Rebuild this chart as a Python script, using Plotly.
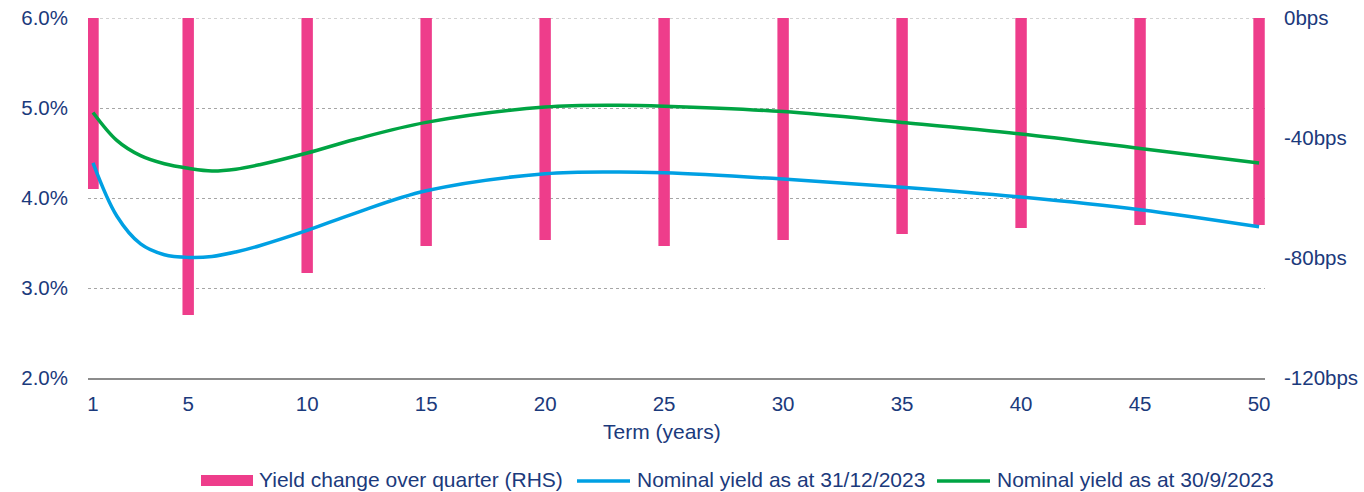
import plotly.graph_objects as go

# Bars: yield change over quarter (bps), RHS
bar_terms = [1, 5, 10, 15, 20, 25, 30, 35, 40, 45, 50]
bar_change = [-57, -99, -85, -76, -74, -76, -74, -72, -70, -69, -69]

# Lines: nominal yield curves (%)
line_terms = [1, 2, 3, 4, 5, 6, 7, 8, 10, 12, 15, 20, 23, 25, 30, 35, 40, 45, 50]
yield_dec = [4.39, 3.80, 3.49, 3.37, 3.34, 3.35, 3.40, 3.47, 3.64, 3.83, 4.08, 4.27, 4.29, 4.28, 4.21, 4.12, 4.01, 3.87, 3.68]
yield_sep = [4.95, 4.64, 4.47, 4.38, 4.33, 4.30, 4.32, 4.37, 4.50, 4.65, 4.84, 5.01, 5.03, 5.02, 4.96, 4.84, 4.71, 4.55, 4.39]

x_ticks = [1, 5, 10, 15, 20, 25, 30, 35, 40, 45, 50]
left_ticks = [2, 3, 4, 5, 6]
right_ticks = [0, -40, -80, -120]

names = ["Yield change over quarter (RHS)",
         "Nominal yield as at 31/12/2023",
         "Nominal yield as at 30/9/2023"]

PINK = "#EE3D8B"
BLUE = "#00A0E3"
GREEN = "#00A443"
TXT = "#1B3A7C"
FONT = "Liberation Sans"

W, H = 1364, 492
L, T = 88, 18
R = W - 1265
B = H - 378
PW, PH = W - L - R, H - T - B


def px(x):
    """page x pixel -> paper x"""
    return (x - L) / PW


def py(y):
    """page y pixel -> paper y"""
    return (H - B - y) / PH


fig = go.Figure()

fig.add_trace(go.Bar(
    x=bar_terms, y=bar_change, yaxis="y", width=0.48,
    marker=dict(color=PINK, line=dict(width=0)),
    showlegend=False, name=names[0],
))
fig.add_trace(go.Scatter(
    x=line_terms, y=yield_dec, yaxis="y2", mode="lines",
    line=dict(color=BLUE, width=3.5, shape="spline", smoothing=1.0),
    name=names[1], showlegend=False,
))
fig.add_trace(go.Scatter(
    x=line_terms, y=yield_sep, yaxis="y2", mode="lines",
    line=dict(color=GREEN, width=3.5, shape="spline", smoothing=1.0),
    name=names[2], showlegend=False,
))

fig.update_layout(
    width=W, height=H,
    margin=dict(l=L, r=R, t=T, b=B, autoexpand=False),
    paper_bgcolor="white", plot_bgcolor="white",
    font=dict(family=FONT, size=21, color=TXT),
    showlegend=False,
    xaxis=dict(
        range=[0.79, 50.25],
        tickmode="array", tickvals=x_ticks,
        showgrid=False, zeroline=False,
        showline=True, linecolor="#8C8C8C", linewidth=2,
        ticks="", ticklabelstandoff=6, automargin=False,
        ticklabeloverflow="allow",
        tickfont=dict(size=20.5, color=TXT),
    ),
    yaxis=dict(
        side="right",
        range=[-120, 0],
        tickmode="array", tickvals=right_ticks,
        ticktext=[f"{v}bps" for v in right_ticks],
        showgrid=False, zeroline=False, showline=False,
        ticks="", ticklabelstandoff=18, automargin=False,
        ticklabeloverflow="allow",
        tickfont=dict(size=20.5, color=TXT),
        minor=dict(dtick=30, tick0=0, showgrid=True, gridcolor="#A6A6A6",
                   griddash="dot", gridwidth=1, ticks=""),
    ),
    yaxis2=dict(
        overlaying="y", side="left",
        range=[2, 6],
        tickmode="array", tickvals=left_ticks,
        ticktext=[f"{v:.1f}%" for v in left_ticks],
        showgrid=False, zeroline=False, showline=False,
        ticks="", ticklabelstandoff=19, automargin=False,
        ticklabeloverflow="allow",
        tickfont=dict(size=20.5, color=TXT),
    ),
)

# top dotted gridline (at 0bps / 6.0%)
fig.add_shape(type="line", xref="paper", yref="y", x0=0, x1=1, y0=0, y1=0,
              line=dict(color="#A6A6A6", width=1, dash="dot"), layer="below")

# x-axis title
fig.add_annotation(text="Term (years)", xref="paper", yref="paper",
                   x=px(662), y=py(432), xanchor="center", yanchor="middle",
                   showarrow=False, font=dict(size=21, color=TXT))

# manual legend
leg_y = 481
fig.add_shape(type="rect", xref="paper", yref="paper",
              x0=px(201), x1=px(253), y0=py(486), y1=py(475),
              fillcolor=PINK, line=dict(width=0))
fig.add_shape(type="line", xref="paper", yref="paper",
              x0=px(577), x1=px(630), y0=py(leg_y), y1=py(leg_y),
              line=dict(color=BLUE, width=3.5))
fig.add_shape(type="line", xref="paper", yref="paper",
              x0=px(937), x1=px(990), y0=py(leg_y), y1=py(leg_y),
              line=dict(color=GREEN, width=3.5))
for name, x0 in zip(names, [257, 635, 995]):
    fig.add_annotation(text=name, xref="paper", yref="paper",
                       x=px(x0), y=py(480), xanchor="left", yanchor="middle",
                       showarrow=False, font=dict(size=21, color=TXT))

fig.write_html(
    "out.html",
    config={"displayModeBar": False, "staticPlot": True},
    post_script="document.body.style.margin='0';document.body.style.overflow='hidden';",
)
